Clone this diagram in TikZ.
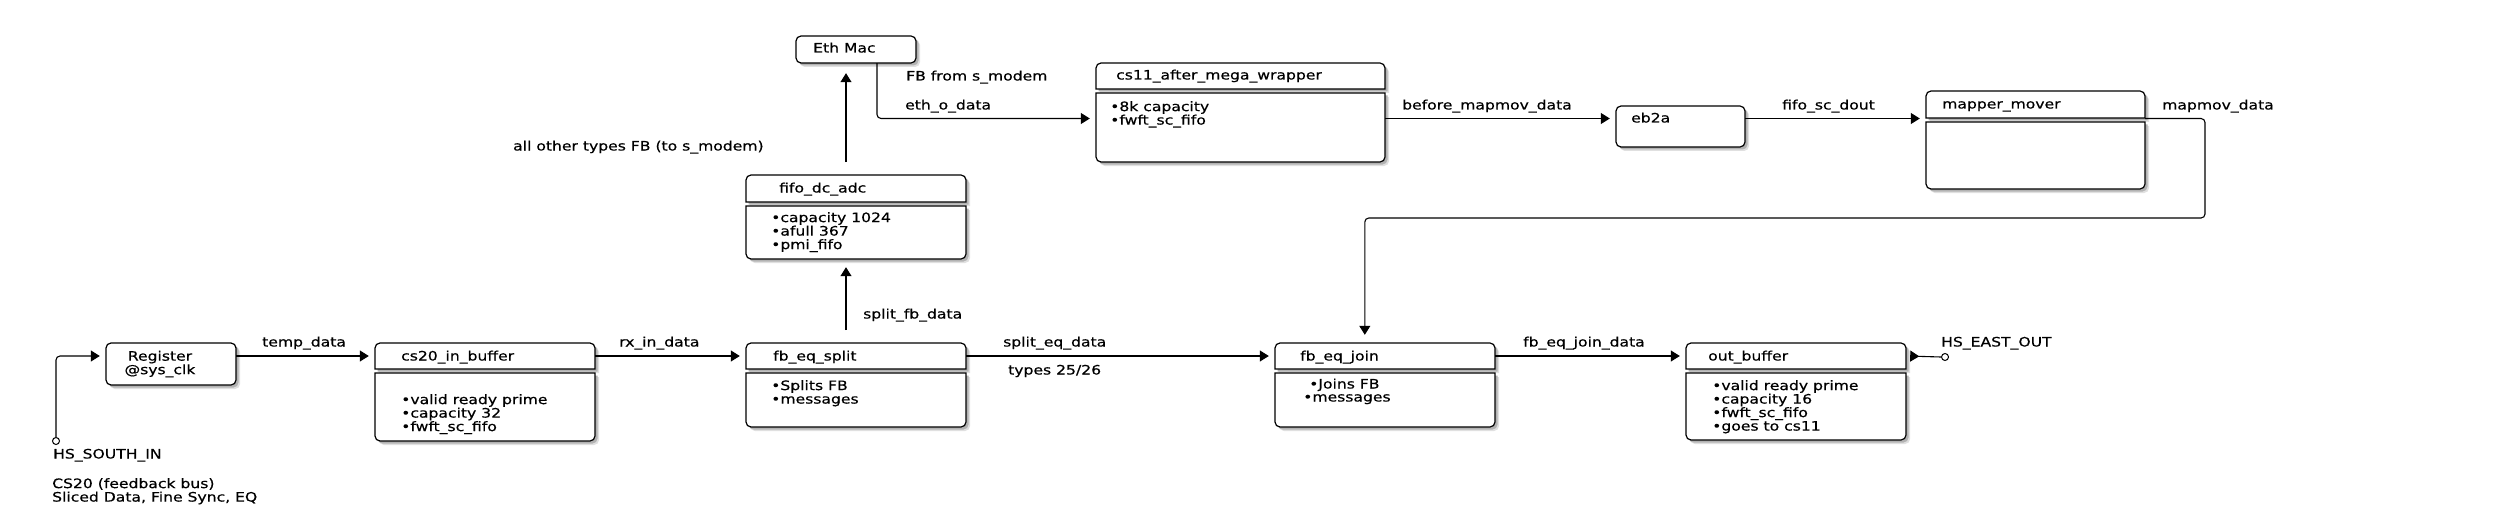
\documentclass[tikz,border=0pt]{standalone}
\usepackage{fontspec}
\usetikzlibrary{arrows.meta,fit}
\newfontfamily\dv[FakeStretch=1.2,FakeBold=0.5]{DejaVu Sans}
\newcommand\dvf{\dv\fontsize{13pt}{13.5pt}\selectfont}
\tikzset{
  boxline/.style={line width=1.2pt, draw=black, fill=white},
  hid/.style={draw=none, inner sep=0pt},
  conn/.style={line width=1.1pt, -{Triangle[length=9pt,width=11pt]}, shorten >=6pt},
  vconn/.style={conn, shorten >=8pt},
  lbl/.style={anchor=west, inner sep=0pt, font=\dvf, text height=9.5pt, text depth=2.5pt},
  bodytxt/.style={anchor=north west, inner sep=0pt, font=\dvf, align=left},
  port/.style={circle, draw, line width=1pt, fill=white, inner sep=0pt, minimum size=7pt}
}
% header box: rounded top corners
\newcommand\hdrbox[5]{%
  \foreach \o/\c in {4/black!12,2.5/black!30}{%
    \fill[\c] ({#2+\o},{#5+\o}) -- ({#2+\o},{#3+5+\o}) arc[start angle=180,end angle=90,radius=5pt]
      -- ({#4-5+\o},{#3+\o}) arc[start angle=90,end angle=0,radius=5pt] -- ({#4+\o},{#5+\o}) -- cycle;}
  \draw[boxline] (#2,#5) -- ({#2},{#3+5}) arc[start angle=180,end angle=90,radius=5pt]
      -- ({#4-5},{#3}) arc[start angle=90,end angle=0,radius=5pt] -- (#4,#5) -- cycle;
  \node[hid, fit={(#2,#3) (#4,#5)}] (#1) {};
}
% body box: rounded bottom corners
\newcommand\bodbox[5]{%
  \foreach \o/\c in {4/black!12,2.5/black!30}{%
    \fill[\c] ({#2+\o},{#3+\o}) -- ({#4+\o},{#3+\o}) -- ({#4+\o},{#5-5+\o}) arc[start angle=0,end angle=-90,radius=5pt]
      -- ({#2+5+\o},{#5+\o}) arc[start angle=270,end angle=180,radius=5pt] -- cycle;}
  \draw[boxline] (#2,#3) -- (#4,#3) -- ({#4},{#5-5}) arc[start angle=0,end angle=-90,radius=5pt]
      -- ({#2+5},{#5}) arc[start angle=270,end angle=180,radius=5pt] -- cycle;
  \node[hid, fit={(#2,#3) (#4,#5)}] (#1) {};
}
% full rounded box
\newcommand\fullbox[5]{%
  \foreach \o/\c in {4/black!12,2.5/black!30}{%
    \fill[\c, rounded corners=5pt] ({#2+\o},{#3+\o}) rectangle ({#4+\o},{#5+\o});}
  \draw[boxline, rounded corners=5pt] (#2,#3) rectangle (#4,#5);
  \node[hid, fit={(#2,#3) (#4,#5)}] (#1) {};
}
\begin{document}
\begin{tikzpicture}[x=1pt,y=-1pt]
\useasboundingbox (0,0) rectangle (2500,532);
\fill[white] (0,0) rectangle (2500,532);

% ---- boxes ----
\fullbox{reg}{106}{343}{236}{385}
\hdrbox{cs20h}{375}{343}{595}{369}
\bodbox{cs20b}{375}{373}{595}{441}
\hdrbox{splh}{746}{343}{966}{369}
\bodbox{splb}{746}{373}{966}{427}
\hdrbox{fifoh}{746}{175}{966}{202}
\bodbox{fifob}{746}{206}{966}{259}
\fullbox{eth}{796}{36}{916}{63}
\hdrbox{cs11h}{1096}{63}{1385}{89}
\bodbox{cs11b}{1096}{93}{1385}{162}
\fullbox{eb}{1616}{106}{1745}{147}
\hdrbox{mmh}{1926}{91}{2145}{118}
\bodbox{mmb}{1926}{122}{2145}{189}
\hdrbox{joinh}{1275}{343}{1495}{369}
\bodbox{joinb}{1275}{373}{1495}{427}
\hdrbox{outh}{1686}{343}{1906}{369}
\bodbox{outb}{1686}{373}{1906}{440}

% ---- box texts ----
\node[font=\dvf, align=center, inner sep=0pt] (regt) at (160,364) {Register\\@sys\_clk};
\node[lbl] (cs20t) at (401,357) {cs20\_in\_buffer};
\node[bodytxt] (cs20bt) at (401,394) {\vphantom{l}•valid ready prime\\•capacity 32\\•fwft\_sc\_fifo};
\node[lbl] (splt) at (773,357) {fb\_eq\_split};
\node[bodytxt] (splbt) at (771,380) {\vphantom{l}•Splits FB\\•messages};
\node[lbl] (fifot) at (779,189) {fifo\_dc\_adc};
\node[bodytxt] (fifobt) at (771,212) {\vphantom{l}•capacity 1024\\•afull 367\\•pmi\_fifo};
\node[lbl] (etht) at (813,49) {Eth Mac};
\node[lbl] (cs11t) at (1116,76) {cs11\_after\_mega\_wrapper};
\node[bodytxt] (cs11bt) at (1110,101) {\vphantom{l}•8k capacity\\•fwft\_sc\_fifo};
\node[lbl] (ebt) at (1631,119) {eb2a};
\node[lbl] (mmt) at (1942,105) {mapper\_mover};
\node[lbl] (joint) at (1300,357) {fb\_eq\_join};
\node[lbl] (joinbt1) at (1309,385) {•Joins FB};
\node[lbl] (joinbt2) at (1303,398) {•messages};
\node[lbl] (outt) at (1708,357) {out\_buffer};
\node[bodytxt] (outbt) at (1712,380) {\vphantom{l}•valid ready prime\\•capacity 16\\•fwft\_sc\_fifo\\•goes to cs11};

% ---- ports ----
\node[port] (hsin) at (56,441) {};
\node[port] (hsout) at (1945,357) {};

% ---- helper coordinates ----
\coordinate (sfb) at (846,330);
\coordinate (aot) at (846,162);
\coordinate (ethx) at (877,0);
\coordinate (r2) at (0,118.5);
\coordinate (turn) at (2205,218);

% ---- connectors ----
\draw[conn, rounded corners=4pt] (hsin.north) |- (reg.west |- cs20h.west);
\draw[conn] (reg.east |- cs20h.west) -- (cs20h.west);
\draw[conn] (cs20h.east) -- (splh.west);
\draw[conn] (splh.east) -- (joinh.west);
\draw[conn] (joinh.east) -- (outh.west);
\draw[line width=1.1pt, {Triangle[reversed,length=9pt,width=11pt]}-, shorten <=4pt] (outh.east) -- (hsout.west);
\draw[vconn] (sfb) -- (sfb |- fifob.south);
\draw[vconn, shorten >=10pt] (aot) -- (aot |- eth.south);
\draw[conn, rounded corners=4pt] (eth.south -| ethx) |- (cs11b.west |- r2);
\draw[conn] (cs11b.east |- r2) -- (eb.west |- r2);
\draw[conn] (eb.east |- r2) -- (mmh.west |- r2);
\draw[vconn, rounded corners=4pt] (mmh.east |- r2) -| (turn) -| ([xshift=90pt]joinh.north west);

% ---- labels ----
\node[lbl] (l1) at (262,343) {temp\_data};
\node[lbl] (l2) at (619,343) {rx\_in\_data};
\node[lbl] (l3) at (1003,343) {split\_eq\_data};
\node[lbl] (l4) at (1008,371) {types 25/26};
\node[lbl] (l5) at (1523,343) {fb\_eq\_join\_data};
\node[lbl] (l6) at (1941,343) {HS\_EAST\_OUT};
\node[lbl] (l7) at (863,315) {split\_fb\_data};
\node[lbl] (l8) at (513,147) {all other types FB (to s\_modem)};
\node[lbl] (l9) at (906,77) {FB from s\_modem};
\node[lbl] (l10) at (905,106) {eth\_o\_data};
\node[lbl] (l11) at (1402,106) {before\_mapmov\_data};
\node[lbl] (l12) at (1782,106) {fifo\_sc\_dout};
\node[lbl] (l13) at (2162,106) {mapmov\_data};
\node[lbl] (l14) at (53,455) {HS\_SOUTH\_IN};
\node[bodytxt] (l15) at (52,478) {\vphantom{l}CS20 (feedback bus)\\Sliced Data, Fine Sync, EQ};
\end{tikzpicture}
\end{document}
